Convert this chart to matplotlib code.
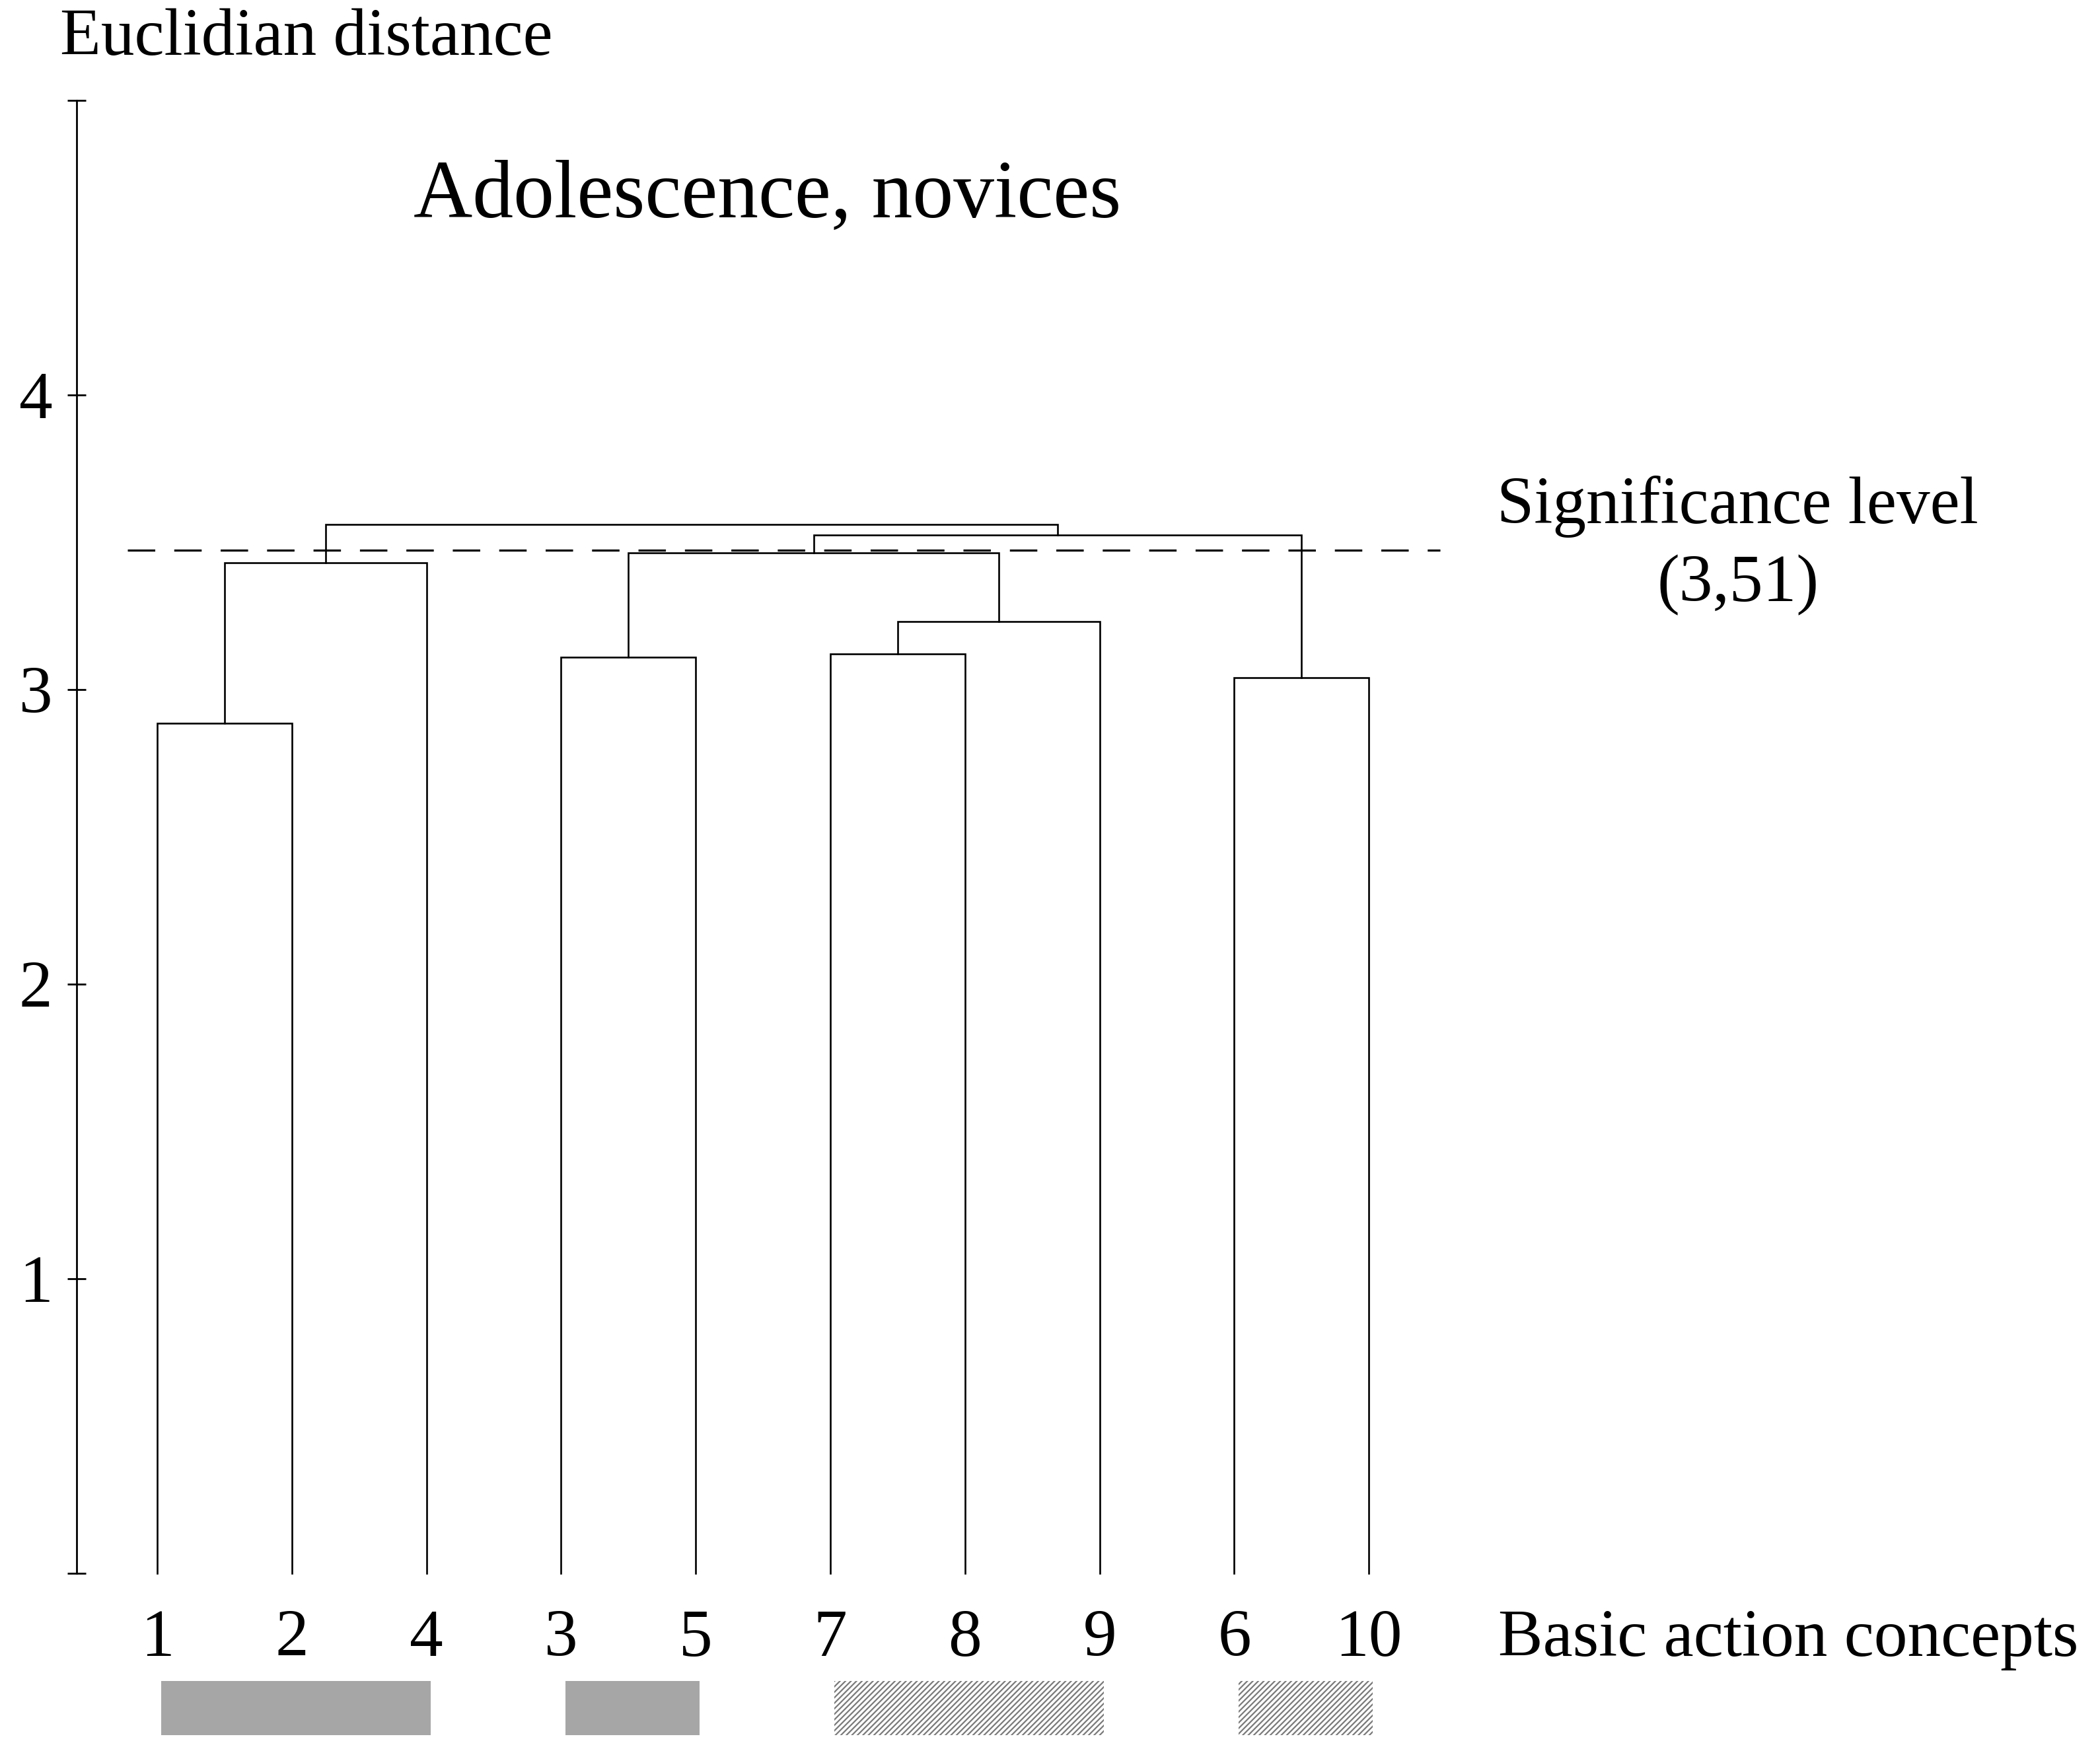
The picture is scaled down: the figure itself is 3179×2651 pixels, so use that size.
import matplotlib.pyplot as plt
from matplotlib.patches import Rectangle

plt.rcParams['font.family'] = ['Liberation Serif', 'DejaVu Serif']
plt.rcParams['hatch.linewidth'] = 1.6

# leaves in dendrogram order
leaf_labels = ['1', '2', '4', '3', '5', '7', '8', '9', '6', '10']
# merges: (left node, right node, euclidian distance); merged nodes are named m0, m1, ...
merges = [
    ('1', '2', 2.885),
    ('3', '5', 3.11),
    ('7', '8', 3.12),
    ('6', '10', 3.04),
    ('m2', '9', 3.23),
    ('m0', '4', 3.43),
    ('m1', 'm4', 3.465),
    ('m6', 'm3', 3.525),
    ('m5', 'm7', 3.56),
]
significance = 3.473
yticks = [0, 1, 2, 3, 4, 5]
ytick_labels = ['', '1', '2', '3', '4', '']
# groups under the leaves: (first leaf index, last leaf index, style)
groups = [(0, 2, 'solid'), (3, 4, 'solid'), (5, 7, 'hatch'), (8, 9, 'hatch')]

fig = plt.figure(figsize=(31.79, 26.51), dpi=100)
ax = fig.add_axes([0.0364, 0.1015, 0.9636, 0.8412])
ax.set_xlim(-0.6, 14.43)
ax.set_ylim(0, 5)

# node positions
pos = {lab: (i, 0.0) for i, lab in enumerate(leaf_labels)}
lw = 1.9
for k, (a, b, h) in enumerate(merges):
    xa, ya = pos[a]
    xb, yb = pos[b]
    ax.plot([xa, xa, xb, xb], [ya, h, h, yb], color='black', lw=lw,
            solid_joinstyle='miter', clip_on=False)
    pos['m%d' % k] = ((xa + xb) / 2, h)

# significance level
ax.plot([-0.22, 9.53], [significance, significance], color='black', lw=2.3,
        linestyle=(0, (13, 9)))

fs = 73
# leaf labels
for i, lab in enumerate(leaf_labels):
    ax.text(i, -0.225, lab, ha='center', va='center', fontsize=fs, clip_on=False)

# group bars
for start, end, style in groups:
    x0 = start + 0.03
    w = end - start
    if style == 'solid':
        r = Rectangle((x0, -0.55), w, 0.185, facecolor='#a6a6a6', edgecolor='none',
                      clip_on=False)
    else:
        r = Rectangle((x0, -0.55), w, 0.185, facecolor='white', edgecolor='#7a7a7a',
                      hatch='////', linewidth=0, clip_on=False)
    ax.add_patch(r)

# axis styling
for s in ['top', 'right', 'bottom']:
    ax.spines[s].set_visible(False)
ax.spines['left'].set_linewidth(2)
ax.set_xticks([])
ax.set_yticks(yticks)
ax.set_yticklabels(ytick_labels, fontsize=fs)
ax.tick_params(axis='y', direction='inout', length=20, width=2, pad=16)

# texts
fig.text(0.0287, 0.978, 'Euclidian distance', ha='left', va='center', fontsize=fs)
ax.text(4.53, 4.67, 'Adolescence, novices', ha='center', va='center', fontsize=89)
ax.text(11.74, 3.62, 'Significance level', ha='center', va='center', fontsize=fs)
ax.text(11.74, 3.355, '(3,51)', ha='center', va='center', fontsize=fs)
ax.text(9.96, -0.225, 'Basic action concepts', ha='left', va='center', fontsize=fs,
        clip_on=False)

fig.savefig('out.png', dpi=100)
